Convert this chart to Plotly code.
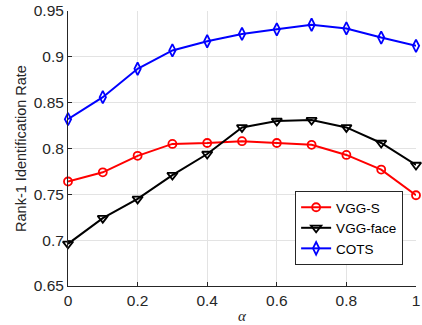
import plotly.graph_objects as go

alpha = [0, 0.1, 0.2, 0.3, 0.4, 0.5, 0.6, 0.7, 0.8, 0.9, 1.0]
vgg_s = [0.764, 0.774, 0.792, 0.805, 0.806, 0.808, 0.806, 0.804, 0.793, 0.777, 0.749]
vgg_face = [0.696, 0.724, 0.745, 0.771, 0.794, 0.823, 0.830, 0.831, 0.823, 0.806, 0.782]
cots = [0.832, 0.856, 0.887, 0.907, 0.917, 0.925, 0.930, 0.935, 0.931, 0.921, 0.912]

x_ticks = [0, 0.2, 0.4, 0.6, 0.8, 1]
x_labels = ["0", "0.2", "0.4", "0.6", "0.8", "1"]
y_ticks = [0.65, 0.7, 0.75, 0.8, 0.85, 0.9, 0.95]
y_labels = ["0.65", "0.7", "0.75", "0.8", "0.85", "0.9", "0.95"]

fig = go.Figure()
fig.add_trace(go.Scatter(x=alpha, y=vgg_s, name="VGG-S", mode="lines+markers",
                         line=dict(color="#ff0000", width=2),
                         marker=dict(symbol="circle-open", size=8, color="#ff0000", line=dict(width=1.8)),
                         cliponaxis=False))
fig.add_trace(go.Scatter(x=alpha, y=vgg_face, name="VGG-face", mode="lines+markers",
                         line=dict(color="#000000", width=2),
                         marker=dict(symbol="triangle-down-open", size=9, color="#000000", line=dict(width=1.8)),
                         cliponaxis=False))
fig.add_trace(go.Scatter(x=alpha, y=cots, name="COTS", mode="lines+markers",
                         line=dict(color="#0000ff", width=2),
                         marker=dict(symbol="diamond-tall-open", size=9, color="#0000ff", line=dict(width=1.8)),
                         cliponaxis=False))

axis_common = dict(showgrid=True, gridcolor="#e3e3e3", gridwidth=1, zeroline=False,
                   showline=True, linecolor="#262626", linewidth=1,
                   ticks="inside", ticklen=4, tickcolor="#262626",
                   ticklabeloverflow="allow",
                   tickfont=dict(family="Liberation Sans, Arial", size=15.5, color="#262626"))

fig.update_layout(
    width=422, height=325,
    margin=dict(l=68, r=2, t=11, b=39),
    paper_bgcolor="white", plot_bgcolor="white",
    xaxis=dict(range=[0, 1], tickvals=x_ticks, ticktext=x_labels,
               title=dict(text="<i>α</i>", font=dict(family="Liberation Serif, Times New Roman", size=15, color="#262626"), standoff=2),
               **axis_common),
    yaxis=dict(range=[0.65, 0.95], tickvals=y_ticks, ticktext=y_labels,
               title=dict(text="Rank-1 Identification Rate", font=dict(family="Liberation Sans, Arial", size=14.5, color="#262626"), standoff=3),
               **axis_common),
    legend=dict(x=0.963, y=0.211, xanchor="right", yanchor="middle",
                bgcolor="white", bordercolor="#262626", borderwidth=1,
                font=dict(family="Liberation Sans, Arial", size=13.5, color="#000000"),
                tracegroupgap=0, itemwidth=30),
    showlegend=True,
)

fig.write_html("out.html", config={"displayModeBar": False},
               post_script="document.body.style.margin='0';")
